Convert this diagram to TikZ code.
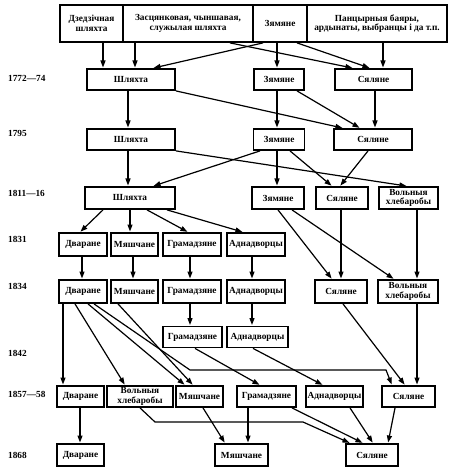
\documentclass[tikz,border=0pt]{standalone}
\usepackage{fontspec}
\setmainfont{Liberation Serif}
\usetikzlibrary{arrows.meta}
\begin{document}
\begin{tikzpicture}[x=1pt,y=-1pt,
  box/.style={draw, line width=1.8pt, inner sep=0pt, align=center, font=\bfseries\fontsize{9.3}{9.6}\selectfont},
  bx/.style 2 args={box, minimum width=#1, minimum height=#2},
  con/.style={line width=1.2pt, -{Triangle[length=7pt,width=5pt]}, shorten >=0.6pt},
  yr/.style={anchor=west, inner sep=0pt, font=\bfseries\fontsize{9.3}{9.3}\selectfont},
]
\useasboundingbox (0,0) rectangle (449,470);
% year labels
\node[yr] (y1) at (8,78) {1772—74};
\node[yr] (y2) at (8,133) {1795};
\node[yr] (y3) at (8,193) {1811—16};
\node[yr] (y4) at (8,239) {1831};
\node[yr] (y5) at (8,286) {1834};
\node[yr] (y6) at (8,353) {1842};
\node[yr] (y7) at (8,394) {1857—58};
\node[yr] (y8) at (8,455) {1868};
% top row
\node[bx={63pt}{37pt}] (tA) at (91.5,23.5) {Дзедзічная\\шляхта};
\node[bx={130pt}{37pt}] (tB) at (188,23.5) {Засцянковая, чыншавая,\\служылая шляхта};
\node[bx={54pt}{37pt}] (tC) at (280,23.5) {Зямяне};
\node[bx={140pt}{37pt}] (tD) at (377,23.5) {Панцырныя баяры,\\ардынаты, выбранцы і да т.п.};
% 1772
\node[bx={88pt}{21pt}] (s72) at (131,79.5) {Шляхта};
\node[bx={50pt}{21pt}] (z72) at (279,79.5) {Зямяне};
\node[bx={77pt}{21pt}] (c72) at (373.5,79.5) {Сяляне};
% 1795
\node[bx={88pt}{21pt}] (s95) at (131,139.5) {Шляхта};
\node[bx={51pt}{21pt}] (z95) at (279,139.5) {Зямяне};
\node[bx={78pt}{21pt}] (c95) at (373,139.5) {Сяляне};
% 1811
\node[bx={90pt}{22pt}] (s11) at (130,198) {Шляхта};
\node[bx={52pt}{22pt}] (z11) at (278,198) {Зямяне};
\node[bx={52pt}{22pt}] (c11) at (342,198) {Сяляне};
\node[bx={59pt}{22pt}] (v11) at (408.5,198) {Вольныя\\хлебаробы};
% 1831
\node[bx={48pt}{23pt}] (d31) at (83,244.5) {Дваране};
\node[bx={47pt}{23pt}] (m31) at (134.5,244.5) {Мяшчане};
\node[bx={58pt}{23pt}] (g31) at (192,244.5) {Грамадзяне};
\node[bx={58pt}{23pt}] (a31) at (256,244.5) {Аднадворцы};
% 1834
\node[bx={48pt}{23pt}] (d34) at (83,291.5) {Дваране};
\node[bx={47pt}{23pt}] (m34) at (134.5,291.5) {Мяшчане};
\node[bx={58pt}{23pt}] (g34) at (192,291.5) {Грамадзяне};
\node[bx={58pt}{23pt}] (a34) at (256,291.5) {Аднадворцы};
\node[bx={52pt}{23pt}] (c34) at (341,291.5) {Сяляне};
\node[bx={60pt}{23pt}] (v34) at (408,291.5) {Вольныя\\хлебаробы};
% 1842
\node[bx={59pt}{21pt}] (g42) at (192.5,337) {Грамадзяне};
\node[bx={61pt}{21pt}] (a42) at (257.5,337) {Аднадворцы};
% 1857
\node[bx={47pt}{21pt}] (d57) at (80.5,396.5) {Дваране};
\node[bx={66pt}{21pt}] (v57) at (140,396.5) {Вольныя\\хлебаробы};
\node[bx={47pt}{21pt}] (m57) at (199.5,396.5) {Мяшчане};
\node[bx={59pt}{21pt}] (g57) at (266.5,396.5) {Грамадзяне};
\node[bx={57pt}{21pt}] (a57) at (334.5,396.5) {Аднадворцы};
\node[bx={53pt}{21pt}] (c57) at (408.5,396.5) {Сяляне};
% 1868
\node[bx={47pt}{22pt}] (d68) at (80.5,455) {Дваране};
\node[bx={53pt}{22pt}] (m68) at (241.5,455) {Мяшчане};
\node[bx={52pt}{22pt}] (c68) at (372,455) {Сяляне};
% top -> 1772
\draw[con] ([xshift=11.5pt]tA.south) -- ([xshift=-28pt]s72.north);
\draw[con] ([xshift=-53pt]tB.south) -- ([xshift=4pt]s72.north);
\draw[con] ([xshift=-17pt]tC.south) -- ([xshift=22pt]s72.north);
\draw[con] ([xshift=42pt]tB.south) -- ([xshift=-20.5pt]c72.north);
\draw[con] ([xshift=-3pt]tC.south) -- ([xshift=-2pt]z72.north);
\draw[con] ([xshift=17pt]tC.south) -- ([xshift=-3.5pt]c72.north);
\draw[con] ([xshift=6pt]tD.south) -- ([xshift=9.5pt]c72.north);
% 1772 -> 1795
\draw[con] ([xshift=-3pt]s72.south) -- ([xshift=-3pt]s95.north);
\draw[con] (s72.south east) -- ([xshift=-30pt]c95.north);
\draw[con] ([xshift=-2pt]z72.south) -- ([xshift=-2pt]z95.north);
\draw[con] ([xshift=18pt]z72.south) -- ([xshift=-13pt]c95.north);
\draw[con] ([xshift=1.5pt]c72.south) -- ([xshift=2pt]c95.north);
% 1795 -> 1811
\draw[con] ([xshift=-3pt]s95.south) -- ([xshift=-2pt]s11.north);
\draw[con] ([xshift=-19pt]z95.south) -- ([xshift=23pt]s11.north);
\draw[con] (s95.south east) -- ([xshift=-1.5pt]v11.north);
\draw[con] ([xshift=-2pt]z95.south) -- ([xshift=-1pt]z11.north);
\draw[con] ([xshift=11pt]z95.south) -- ([xshift=-10pt]c11.north);
\draw[con] ([xshift=-5pt]c95.south) -- ([xshift=-2pt]c11.north);
% 1811 -> 1831 / 1834
\draw[con] ([xshift=-27pt]s11.south) -- ([xshift=-3pt]d31.north);
\draw[con] (s11.south) -- ([xshift=-4.5pt]m31.north);
\draw[con] ([xshift=17pt]s11.south) -- ([xshift=-4pt]g31.north);
\draw[con] ([xshift=37pt]s11.south) -- ([xshift=-13pt]a31.north);
\draw[con] (z11.south) -- ([xshift=-9pt]c34.north);
\draw[con] ([xshift=14pt]z11.south) -- ([xshift=-14pt]v34.north);
\draw[con] ([xshift=-1pt]c11.south) -- (c34.north);
\draw[con] ([xshift=8.5pt]v11.south) -- ([xshift=9pt]v34.north);
% 1831 -> 1834
\draw[con] ([xshift=-1pt]d31.south) -- ([xshift=-1pt]d34.north);
\draw[con] ([xshift=-1.5pt]m31.south) -- ([xshift=-1.5pt]m34.north);
\draw[con] ([xshift=-2pt]g31.south) -- ([xshift=-2pt]g34.north);
\draw[con] ([xshift=-4pt]a31.south) -- ([xshift=-4pt]a34.north);
% 1834 -> 1842
\draw[con] ([xshift=-2pt]g34.south) -- ([xshift=-2.5pt]g42.north);
\draw[con] ([xshift=-4pt]a34.south) -- ([xshift=-5.5pt]a42.north);
% 1834/1842 -> 1857
\draw[con] ([xshift=-20pt]d34.south) -- ([xshift=-17.5pt]d57.north);
\draw[con] ([xshift=-8pt]d34.south) -- ([xshift=-15pt]v57.north);
\draw[con] ([xshift=5pt]d34.south) -- ([xshift=-14.5pt]m57.north);
\draw[con] ([xshift=11pt]d34.south) -- (190,370) -- (386,370) -- ([xshift=-16.5pt]c57.north);
\draw[con] ([xshift=-16.5pt]m34.south) -- ([xshift=-6.5pt]m57.north);
\draw[con] ([xshift=2.5pt]g42.south) -- ([xshift=-6.5pt]g57.north);
\draw[con] ([xshift=-4.5pt]a42.south) -- ([xshift=-11.5pt]a57.north);
\draw[con] ([xshift=2pt]c34.south) -- ([xshift=-3.5pt]c57.north);
\draw[con] ([xshift=9pt]v34.south) -- ([xshift=8.5pt]c57.north);
% 1857 -> 1868
\draw[con] ([xshift=-0.5pt]d57.south) -- ([xshift=-0.5pt]d68.north);
\draw[con] (v57.south) -- (155,422) -- (303,422) -- ([xshift=-22pt]c68.north);
\draw[con] ([xshift=3.5pt]m57.south) -- ([xshift=-16.5pt]m68.north);
\draw[con] ([xshift=-18.5pt]g57.south) -- ([xshift=6.5pt]m68.north);
\draw[con] ([xshift=25.5pt]g57.south) -- ([xshift=-9pt]c68.north);
\draw[con] ([xshift=15.5pt]a57.south) -- ([xshift=1pt]c68.north);
\draw[con] ([xshift=-13.5pt]c57.south) -- ([xshift=16pt]c68.north);
\end{tikzpicture}
\end{document}
